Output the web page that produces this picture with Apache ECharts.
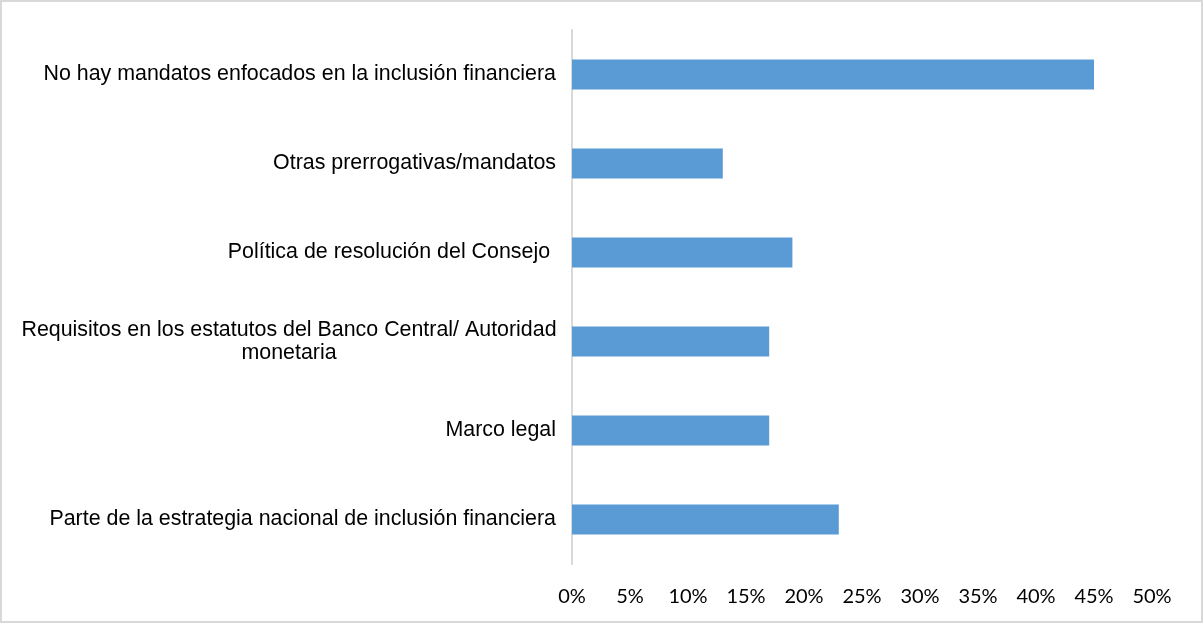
<!DOCTYPE html>
<html>
<head>
<meta charset="utf-8">
<script src="https://cdn.jsdelivr.net/npm/echarts@6/dist/echarts.min.js"></script>
<style>
    html, body { margin: 0; padding: 0; background: #fff; }
    #wrap { position: relative; width: 1203px; height: 623px; }
    #chart { width: 1203px; height: 623px; }
    #frame { position: absolute; left: 0; top: 0; width: 1203px; height: 623px; box-sizing: border-box;
             border: 2px solid #d9d9d9; pointer-events: none; }
</style>
</head>
<body>
<div id="wrap">
    <div id="chart"></div>
    <div id="frame"></div>
</div>
<script>
// categories, top to bottom
const categories = [
    'No hay mandatos enfocados en la inclusión financiera',
    'Otras prerrogativas/mandatos',
    'Política de resolución del Consejo ',
    'Requisitos en los estatutos del Banco Central/ Autoridad\nmonetaria',
    'Marco legal',
    'Parte de la estrategia nacional de inclusión financiera'
];
// share of answers, in %
const values = [45, 13, 19, 17, 17, 23];
const xTicks = [0, 5, 10, 15, 20, 25, 30, 35, 40, 45, 50];

const chart = echarts.init(document.getElementById('chart'));

const yData = categories.map(function (c) {
    if (c.indexOf('\n') >= 0) {
        // two centred lines, block still ending at the axis
        return { value: c, textStyle: { align: 'center', padding: [0, 534, 0, 0] } };
    }
    return c;
});

chart.setOption({
    backgroundColor: '#ffffff',
    animation: false,
    grid: { left: 572, right: 51, top: 30, bottom: 59 },
    xAxis: {
        type: 'value',
        min: xTicks[0],
        max: xTicks[xTicks.length - 1],
        interval: 5,
        axisLine: { show: false },
        axisTick: { show: false },
        splitLine: { show: false },
        axisLabel: {
            formatter: '{value}%',
            color: '#000',
            fontFamily: 'Lato',
            fontSize: 20,
            margin: 23
        }
    },
    yAxis: {
        type: 'category',
        inverse: true,
        data: yData,
        axisLine: { show: true, lineStyle: { color: '#d9d9d9', width: 2 } },
        axisTick: { show: false },
        axisLabel: {
            color: '#000',
            fontFamily: 'Liberation Sans',
            fontSize: 21.4,
            lineHeight: 23,
            margin: 16
        }
    },
    series: [{
        type: 'bar',
        data: values,
        barWidth: 30,
        itemStyle: { color: '#5b9bd5' }
    }]
});
</script>
</body>
</html>
